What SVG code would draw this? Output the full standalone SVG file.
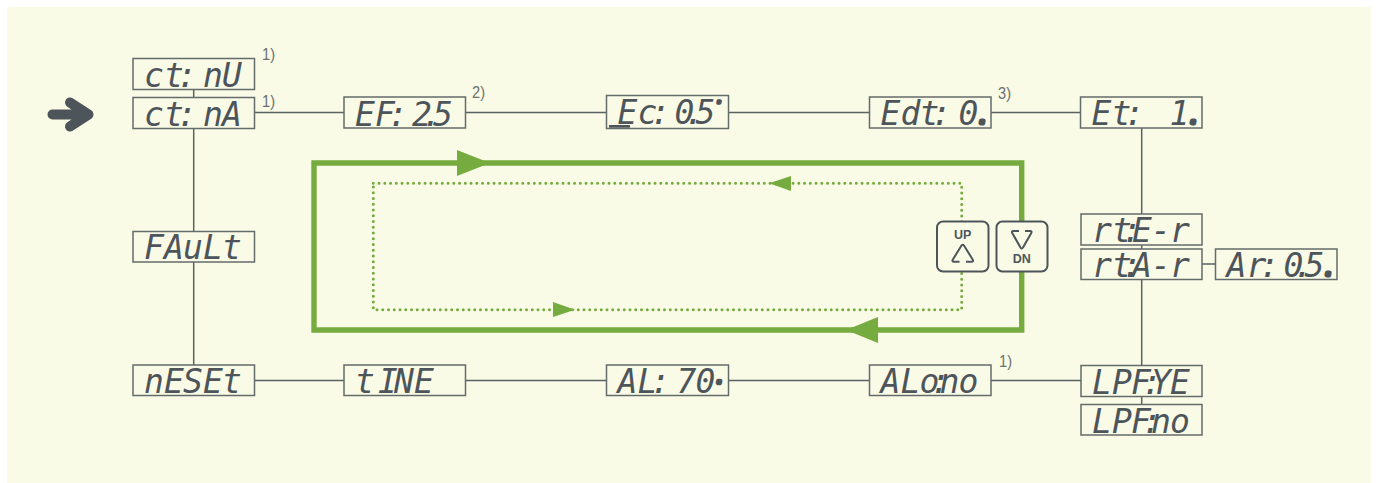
<svg xmlns="http://www.w3.org/2000/svg" width="1377" height="483" viewBox="0 0 1377 483">
<style>
.box{fill:#fafbe6;stroke:#646b6b;stroke-width:1.5}
.lcd{font-family:"DejaVu Sans Mono","Liberation Mono",monospace;font-style:italic;font-size:33px;fill:#4d555b}
.dot{font-size:14px;stroke:#4d555b;stroke-width:5;stroke-linejoin:round}
.note{font-family:"Liberation Sans",Arial,sans-serif;font-size:17px;fill:#6b7070}
.btn{fill:#fafbe6;stroke:#4d555b;stroke-width:2}
.tri{fill:none;stroke:#4d555b;stroke-width:2}
.blbl{font-family:"Liberation Sans",Arial,sans-serif;font-weight:700;font-size:12.500px;fill:#4d555b;text-anchor:middle}
.c{fill:none;stroke:#5a6264;stroke-width:1.5}
.g{fill:#76ab3f}
</style>
<rect x="7" y="7" width="1364" height="476" fill="#fafbe6"/>
<g id="connectors">
<path class="c" d="M193.700 89V98M193.700 128V232M193.700 262V365M255 112.500H345M466 112.500H607M729 112.500H870M991 112.500H1081M1141.700 128V214M1141.700 245V249M1141.700 280V365M1141.700 396V405M1202 264H1216M255 380.500H344M466 380.500H607M729 380.500H870M991 380.500H1081"/>
<path d="M314 163H1021.700V330H314Z" fill="none" stroke="#76ab3f" stroke-width="5.400"/>
<path d="M373.300 183.300H961.700V309.700H373.300Z" fill="none" stroke="#76ab3f" stroke-width="3" stroke-linecap="round" stroke-dasharray="0 5.750"/>
<path class="g" d="M457 150L490 163L457 176Z"/>
<path class="g" d="M878 317L846 330L878 343Z"/>
<path class="g" d="M553 302L575 309.700L553 317Z"/>
<path class="g" d="M791 176L769 183.300L791 191Z"/>
</g>
<g id="entry-arrow"><path d="M52.500 114.500H87M70 102.500L88.500 114.500L70 126.500" fill="none" stroke="#4d555b" stroke-width="10" stroke-linecap="round" stroke-linejoin="round"/></g>

<g id="ct-nu"><rect class="box" x="133" y="58.500" width="121.500" height="31"/><text class="lcd" transform="translate(133 87)" x="11 31 44 58 70 89">ct: nU</text><text class="note" x="262" y="60" textLength="13" lengthAdjust="spacingAndGlyphs">1)</text></g>
<g id="ct-na"><rect class="box" x="133" y="97.500" width="121.500" height="31"/><text class="lcd" transform="translate(133 126)" x="11 31 44 58 70 89">ct: nA</text><text class="note" x="262" y="107" textLength="13" lengthAdjust="spacingAndGlyphs">1)</text></g>
<g id="ef"><rect class="box" x="344" y="97" width="121.500" height="31"/><text class="lcd" transform="translate(344 125.500)" x="11 31 44 58 68 78 89">EF: 2.5</text><text class="note" x="472" y="98" textLength="13" lengthAdjust="spacingAndGlyphs">2)</text></g>
<g id="ec"><rect class="box" x="606.500" y="95.500" width="122" height="33"/><text class="lcd" transform="translate(606.500 123.500)" x="11 31 44 58 68 78 89">Ec: 0.5<tspan class="dot" x="109" dy="-21" style="stroke-width:3.500px">.</tspan></text><rect x="609" y="125" width="21" height="2.700" fill="#4d555b"/></g>
<g id="edt"><rect class="box" x="869.500" y="97" width="121.500" height="31"/><text class="lcd" transform="translate(869.500 125)" x="11 31 50 62 75 89">Edt: 0<tspan class="dot" x="109" dy="-2.500">.</tspan></text><text class="note" x="998" y="99" textLength="13" lengthAdjust="spacingAndGlyphs">3)</text></g>
<g id="et"><rect class="box" x="1080.500" y="97" width="121.500" height="31"/><text class="lcd" transform="translate(1080.500 125)" x="11 31 44 60 89">Et: 1<tspan class="dot" x="109" dy="-2.500">.</tspan></text></g>
<g id="rte"><rect class="box" x="1081" y="214" width="121" height="31"/><text class="lcd" transform="translate(1081 242)" x="11 31 41 51 70 89">rt:E-r</text></g>
<g id="rta"><rect class="box" x="1081" y="249" width="121" height="30.500"/><text class="lcd" transform="translate(1081 277)" x="11 31 41 51 70 89">rt:A-r</text></g>
<g id="ar"><rect class="box" x="1215.500" y="249" width="121.500" height="30.500"/><text class="lcd" transform="translate(1215.500 277)" x="11 31 44 58 68 78 89">Ar: 0.5<tspan class="dot" x="109" dy="-2.500">.</tspan></text></g>
<g id="fault"><rect class="box" x="133" y="231.500" width="121.500" height="30.500"/><text class="lcd" transform="translate(133 259)" x="11 31 50 70 89">FAuLt</text></g>
<g id="reset"><rect class="box" x="133" y="365" width="121.500" height="30.500"/><text class="lcd" transform="translate(133 393)" x="11 31 50 70 89">nESEt</text></g>
<g id="time"><rect class="box" x="344" y="365" width="121.500" height="30.500"/><text class="lcd" transform="translate(344 393)" x="11 25 34 50 70">t INE</text></g>
<g id="al"><rect class="box" x="606.500" y="365" width="122" height="30.500"/><text class="lcd" transform="translate(606.500 393)" x="11 31 44 58 70 89">AL: 70<tspan class="dot" x="109" dy="-10.500" style="stroke-width:4.500px">.</tspan></text></g>
<g id="alono"><rect class="box" x="869.500" y="365" width="121.500" height="30.500"/><text class="lcd" transform="translate(869.500 393)" x="11 31 50 61 70 89">ALo:no</text><text class="note" x="999" y="366.700" textLength="13" lengthAdjust="spacingAndGlyphs">1)</text></g>
<g id="lpf-ye"><rect class="box" x="1081" y="365.500" width="121" height="31"/><text class="lcd" transform="translate(1081 394)" x="11 31 50 61 70 89">LPF:YE</text></g>
<g id="lpf-no"><rect class="box" x="1081" y="404.500" width="121" height="30.500"/><text class="lcd" transform="translate(1081 432.500)" x="11 31 50 61 70 89">LPF:no</text></g>

<g id="btn-up"><rect class="btn" x="937" y="221.500" width="51.500" height="50" rx="6"/><text class="blbl" x="962.700" y="239">UP</text><path class="tri" d="M959.500 261.700H954Q951.500 261.700 953 259.300L961.500 245.500Q962.700 243.800 964 245.500L972.500 259.300Q974 261.700 971.500 261.700H966"/></g>
<g id="btn-dn"><rect class="btn" x="996.500" y="221.500" width="51" height="50" rx="6"/><path class="tri" d="M1019 231H1013.500Q1011 231 1012.500 233.500L1020.500 247.500Q1021.700 249.500 1023 247.500L1031 233.500Q1032.500 231 1030 231H1025"/><text class="blbl" x="1021.700" y="263">DN</text></g>
</svg>
